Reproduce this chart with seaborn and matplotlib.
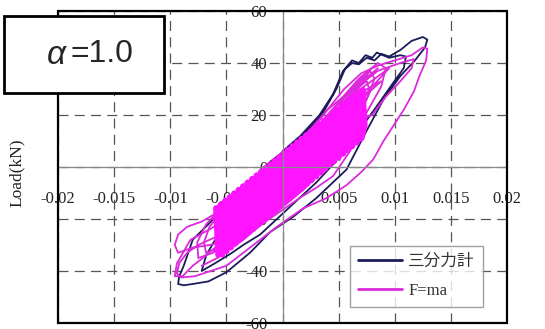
import numpy as np
import pandas as pd
import matplotlib
matplotlib.use("Agg")
import matplotlib.pyplot as plt
from matplotlib.patches import Rectangle
import seaborn as sns

# ---------------- data ----------------
series_names = ["三分力計", "F=ma"]
series_colors = ["#1c1c5c", "#dc2adc"]
core_color = "#ff14ff"

x_ticks = [-0.02, -0.015, -0.01, -0.005, 0, 0.005, 0.01, 0.015, 0.02]
x_tick_labels = ["-0.02", "-0.015", "-0.01", "-0.005", "0", "0.005", "0.01", "0.015", "0.02"]
y_ticks = [-60, -40, -20, 0, 20, 40, 60]
y_tick_labels = ["-60", "-40", "-20", "0", "20", "40", "60"]

# navy (三分力計) hysteresis path
navy_x = [0.0, 0.0016, 0.0033, 0.0045, 0.0054, 0.0062, 0.0068, 0.0075, 0.0082, 0.0088,
          0.0095, 0.0105, 0.0115, 0.0125, 0.0129, 0.0127, 0.0118, 0.0105, 0.009, 0.0075,
          0.0057, 0.003, 0.001, -0.0011, -0.0029, -0.005, -0.0066, -0.008, -0.0088, -0.0093,
          -0.0092, -0.0088, -0.008, -0.0059, -0.0035, -0.0011, 0.0016, 0.0035, 0.0048, 0.0056,
          0.0062, 0.0068, 0.0074, 0.008, 0.0084, 0.0095, 0.0105, 0.011, 0.0108, 0.0098,
          0.0085, 0.007, 0.0058, 0.0045, 0.003, 0.001, -0.0005, -0.002, -0.0035, -0.0045,
          -0.006, -0.0072, -0.0068, -0.006, -0.005]
navy_y = [6, 12, 20, 28, 37, 40, 39.5, 42, 41, 43.5,
          42.5, 45, 48.5, 50, 49, 46, 41, 35, 26, 14,
          -1, -12, -19, -25, -33, -40.5, -44, -45, -45.5, -45,
          -42, -38, -28, -19, -9.7, 2, 11, 20, 30, 38,
          41, 40, 43, 42, 44, 42, 43, 42.5, 38, 32,
          24, 15, 8, 1, -6, -14, -20, -26, -30, -33,
          -37, -40, -34, -28, -22]

# magenta (F=ma) outer loops
mag_outer_x = [0.0, 0.002, 0.004, 0.0055, 0.007, 0.0085, 0.01, 0.0115, 0.0125, 0.0129,
               0.0128, 0.0122, 0.0117, 0.0108, 0.0099, 0.009, 0.0081, 0.007, 0.0057, 0.0039,
               0.0018, -0.0005, -0.0026, -0.005, -0.0078, -0.009, -0.0094, -0.0092, -0.0085, -0.0075,
               -0.006, -0.004, -0.002, 0.0, 0.002, 0.004, 0.0055, 0.007, 0.0085, 0.0105,
               0.0117, 0.0115, 0.0105, 0.0092, 0.008, 0.0068, 0.0062, 0.0066, 0.0074, 0.007,
               0.006, 0.0045, 0.003, 0.0015, -0.0005, -0.0025, -0.0045, -0.0065, -0.008, -0.0093,
               -0.0096, -0.0093, -0.0085, -0.0072, -0.006, -0.0045, -0.005, -0.0065, -0.0082, -0.0094,
               -0.0096, -0.0089, -0.008, -0.0068, -0.0055, -0.004, -0.0025, -0.001, 0.001]
mag_outer_y = [0, 12, 22, 30, 36, 39, 41, 43, 46, 45.5,
               41, 35, 29, 22, 16, 10, 3, -2, -7, -12,
               -16, -23, -30, -38, -42, -42.5, -41, -37, -33, -30,
               -27, -20, -12, -3, 7, 17, 25, 32, 37, 40,
               41.5, 38, 33, 27, 20, 18, 20, 22, 20, 14,
               6, -3.5, -8, -12, -18, -24, -28, -30, -31, -33,
               -30, -26, -23, -21, -18, -16, -20, -24, -28, -37,
               -42, -42, -38, -34, -29, -24, -18, -10, 0]

# magenta loops around the dense core
mag_mid_x = [-0.0062, -0.004, -0.0015, 0.0015, 0.004, 0.0055, 0.0068, 0.0078, 0.0082, 0.0075,
             0.0062, 0.0045, 0.002, -0.001, -0.0035, -0.0055, -0.0068, -0.007, -0.0065, -0.005,
             -0.0025, 0.0005, 0.003, 0.005, 0.0065, 0.0075, 0.0078, 0.007, 0.0055, 0.0035,
             0.001, -0.002, -0.0045, -0.0062, -0.0075, -0.0076, -0.0068, -0.0055, -0.003, 0.0,
             0.0028, 0.005, 0.0068, 0.0085, 0.0092, 0.0088, 0.0075, 0.006, 0.0042, 0.0018,
             -0.001, -0.0035, -0.0058, -0.0072]
mag_mid_y = [-20, -11, -1, 10, 19, 27, 33, 37, 34, 26,
             16, 6, -5, -16, -25, -31, -33, -29, -23, -15,
             -5, 6, 15, 23, 30, 33, 29, 22, 13, 2,
             -9, -20, -28, -33, -35, -29, -22, -16, -7, 4,
             14, 25, 34, 40, 38, 31, 21, 11, 1, -9,
             -19, -28, -35, -38]

# magenta dense core (two back-and-forth sweeps)
mag_core_x = [-0.0060, -0.0058, -0.0056, -0.0054, -0.0052, -0.0050, -0.0048, -0.0046, -0.0044, -0.0042,
              -0.0040, -0.0038, -0.0036, -0.0034, -0.0032, -0.0030, -0.0028, -0.0026, -0.0024, -0.0022,
              -0.0020, -0.0018, -0.0016, -0.0014, -0.0012, -0.0010, -0.0008, -0.0006, -0.0004, -0.0002,
              0.0000, 0.0002, 0.0004, 0.0006, 0.0008, 0.0010, 0.0012, 0.0014, 0.0016, 0.0018,
              0.0020, 0.0022, 0.0024, 0.0026, 0.0028, 0.0030, 0.0032, 0.0034, 0.0036, 0.0038,
              0.0040, 0.0042, 0.0044, 0.0046, 0.0048, 0.0050, 0.0052, 0.0054, 0.0056, 0.0058,
              0.0060, 0.0062, 0.0064, 0.0066, 0.0068, 0.0070, 0.0072, 0.0074,
              0.0071, 0.0069, 0.0067, 0.0065, 0.0063, 0.0061, 0.0059, 0.0057, 0.0055, 0.0053,
              0.0051, 0.0049, 0.0047, 0.0045, 0.0043, 0.0041, 0.0039, 0.0037, 0.0035, 0.0033,
              0.0031, 0.0029, 0.0027, 0.0025, 0.0023, 0.0021, 0.0019, 0.0017, 0.0015, 0.0013,
              0.0011, 0.0009, 0.0007, 0.0005, 0.0003, 0.0001, -0.0001, -0.0003, -0.0005, -0.0007,
              -0.0009, -0.0011, -0.0013, -0.0015, -0.0017, -0.0019, -0.0021, -0.0023, -0.0025, -0.0027,
              -0.0029, -0.0031, -0.0033, -0.0035, -0.0037, -0.0039, -0.0041, -0.0043, -0.0045, -0.0047,
              -0.0049, -0.0051, -0.0053, -0.0055, -0.0057, -0.0059]
mag_core_y = [-15.75, -34, -14.35, -34, -12.95, -32.74, -11.55, -31.3, -10.15, -29.86,
              -8.75, -28.42, -7.35, -26.98, -5.95, -25.54, -4.55, -24.1, -3.15, -22.66,
              -1.75, -21.22, -0.35, -19.78, 1.05, -18.34, 2.45, -16.9, 3.85, -15.46,
              5.25, -14.02, 6.65, -12.58, 8.05, -11.14, 9.45, -9.7, 10.85, -8.26,
              12.25, -6.82, 13.65, -5.38, 15.05, -3.94, 16.45, -2.5, 17.85, -1.06,
              19.25, 0.38, 20.65, 1.82, 22.05, 3.26, 23.45, 4.7, 24.85, 6.14,
              26.25, 7.58, 27.65, 9.02, 29.05, 10.46, 30, 16,
              10.82, 29.4, 9.38, 28.0, 7.94, 26.6, 6.5, 25.2, 5.06, 23.8,
              3.62, 22.4, 2.18, 21.0, 0.74, 19.6, -0.7, 18.2, -2.14, 16.8,
              -3.58, 15.4, -5.02, 14.0, -6.46, 12.6, -7.9, 11.2, -9.34, 9.8,
              -10.78, 8.4, -12.22, 7.0, -13.66, 5.6, -15.1, 4.2, -16.54, 2.8,
              -17.98, 1.4, -19.42, 0.0, -20.86, -1.4, -22.3, -2.8, -23.74, -4.2,
              -25.18, -5.6, -26.62, -7.0, -28.06, -8.4, -29.5, -9.8, -30.94, -11.2,
              -32.38, -12.6, -33.82, -14.0, -34, -15.4]

# magenta scribbles in the upper part of the core
mag_top_x = [-0.0020, 0.0040, 0.0085, 0.0060, 0.0095, 0.0065, 0.0088, 0.0050, 0.0078, 0.0030]
mag_top_y = [-12, 22, 38, 27, 38, 24, 33, 24, 37, 10]

# ---------------- build tidy tables ----------------
df = pd.concat([
    pd.DataFrame({"x": navy_x, "y": navy_y, "series": series_names[0], "seg": 0}),
    pd.DataFrame({"x": mag_outer_x, "y": mag_outer_y, "series": series_names[1], "seg": 1}),
    pd.DataFrame({"x": mag_mid_x, "y": mag_mid_y, "series": series_names[1], "seg": 2}),
    pd.DataFrame({"x": mag_top_x, "y": mag_top_y, "series": series_names[1], "seg": 3}),
], ignore_index=True)
df_core = pd.DataFrame({"x": mag_core_x, "y": mag_core_y})

# ---------------- plot ----------------
sns.set_style("white")
serif = ["Liberation Serif", "Noto Sans CJK JP", "DejaVu Serif"]
plt.rcParams["font.family"] = serif

fig = plt.figure(figsize=(5.45, 3.29), dpi=100)
ax = fig.add_axes([58 / 545, 6 / 329, 449 / 545, 312 / 329])

sns.lineplot(data=df, x="x", y="y", hue="series", units="seg", estimator=None,
             sort=False, palette=series_colors, hue_order=series_names,
             linewidth=1.3, ax=ax)
sns.lineplot(data=df_core, x="x", y="y", estimator=None, sort=False,
             color=core_color, linewidth=3.0, legend=False, ax=ax)

ax.set_xlim(-0.02, 0.02)
ax.set_ylim(-60, 60)
ax.set_xticks(x_ticks)
ax.set_xticklabels(x_tick_labels)
ax.set_yticks(y_ticks)
ax.set_yticklabels(y_tick_labels)

ax.grid(True, linestyle=(0, (8, 5)), color="#555555", linewidth=0.9)
ax.set_axisbelow(True)

for s in ["left", "bottom"]:
    ax.spines[s].set_position(("data", 0))
    ax.spines[s].set_color("#888888")
    ax.spines[s].set_linewidth(0.9)
for s in ["top", "right"]:
    ax.spines[s].set_visible(False)
ax.add_patch(Rectangle((0, 0), 1, 1, transform=ax.transAxes, fill=False,
                       edgecolor="black", linewidth=1.6, clip_on=False, zorder=5))

ax.tick_params(axis="x", length=0, pad=17, labelsize=12, labelcolor="#222222")
ax.tick_params(axis="y", length=0, pad=11, labelsize=12, labelcolor="#222222")

ax.set_xlabel("")
ax.set_ylabel("Load(kN)", fontsize=12.5, color="#222222")
ax.yaxis.set_label_coords(-0.074, 0.48)

handles, labels = ax.get_legend_handles_labels()
leg = ax.legend(handles[:2], labels[:2], loc="lower right", bbox_to_anchor=(0.947, 0.051),
                borderaxespad=0, frameon=True, fancybox=False, edgecolor="#888888",
                fontsize=12, handlelength=2.6, labelspacing=0.75, borderpad=0.5,
                handletextpad=0.4)
for line in leg.get_lines():
    line.set_linewidth(2)
for t in leg.get_texts():
    t.set_color("#333333")

# alpha box
fig.add_artist(Rectangle((4 / 545, 1 - 93 / 329), 160 / 545, 77 / 329,
                         transform=fig.transFigure, facecolor="white",
                         edgecolor="black", linewidth=2, zorder=10))
fig.text(56 / 545, 1 - 55 / 329, "α", fontsize=24, style="italic",
         family=["Liberation Sans", "DejaVu Sans"], ha="center", va="center", zorder=11)
fig.text(70 / 545, 1 - 54 / 329, "=1.0", fontsize=23,
         family=["Liberation Sans", "DejaVu Sans"], ha="left", va="center", zorder=11)

fig.savefig("out.png", dpi=100)
